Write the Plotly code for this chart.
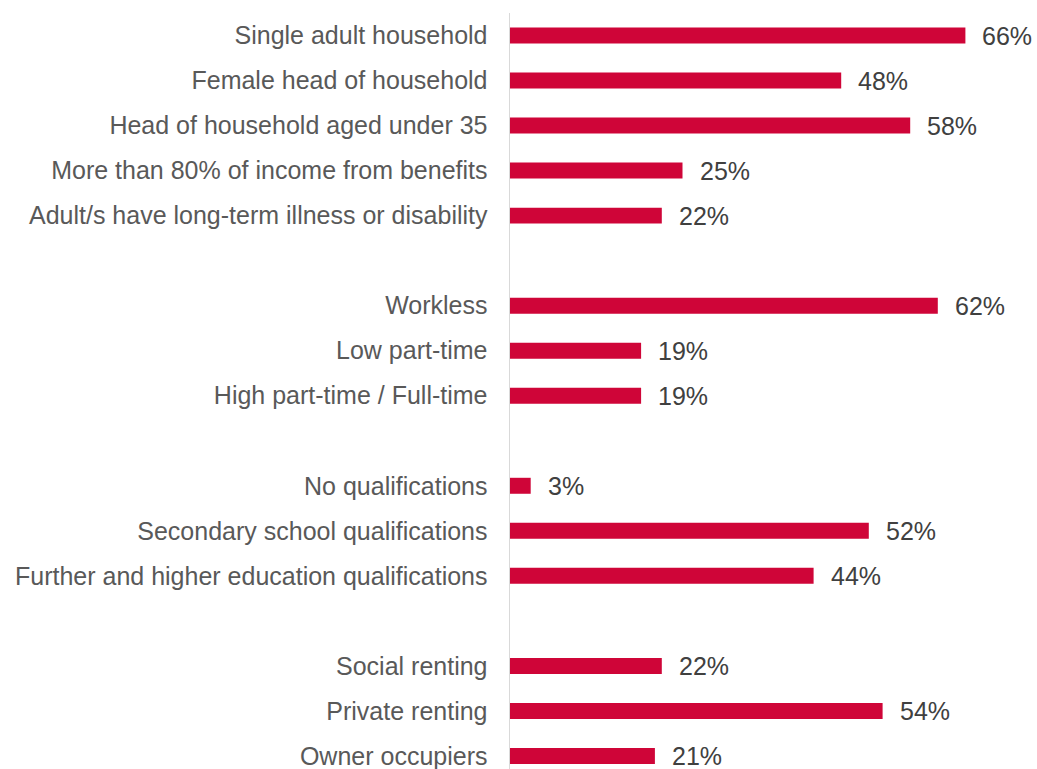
import plotly.graph_objects as go

categories = [
    "Single adult household",
    "Female head of household",
    "Head of household aged under 35",
    "More than 80% of income from benefits",
    "Adult/s have long-term illness or disability",
    " ",
    "Workless",
    "Low part-time",
    "High part-time / Full-time",
    "  ",
    "No qualifications",
    "Secondary school qualifications",
    "Further and higher education qualifications",
    "   ",
    "Social renting",
    "Private renting",
    "Owner occupiers",
]
values = [66, 48, 58, 25, 22, None, 62, 19, 19, None, 3, 52, 44, None, 22, 54, 21]

BAR_COLOR = "#CF0538"
FONT = "Arial, 'Liberation Sans', sans-serif"

fig = go.Figure()
fig.add_trace(go.Bar(
    x=values,
    y=categories,
    orientation="h",
    marker=dict(color=BAR_COLOR, line=dict(width=0)),
    hoverinfo="skip",
))

for cat, val in zip(categories, values):
    if val is None:
        continue
    fig.add_annotation(
        x=val, y=cat, text=f"{val}%", showarrow=False,
        xanchor="left", yanchor="middle", xshift=15,
        font=dict(family=FONT, size=25, color="#404040"),
    )

W, H = 1037, 769
L, T = 510, 13
scale = 6.9  # px per percent
fig.update_layout(
    width=W, height=H,
    margin=dict(l=L, r=0, t=T, b=0),
    paper_bgcolor="white", plot_bgcolor="white",
    bargap=0.645,
    showlegend=False,
    font=dict(family=FONT, size=25, color="#595959"),
    xaxis=dict(visible=False, range=[0, (W - L) / scale], fixedrange=True),
    yaxis=dict(
        type="category",
        range=[16.29, -0.5],
        autorange=False,
        showline=True, linecolor="#D9D9D9", linewidth=1.5,
        showgrid=False, zeroline=False,
        ticks="outside", ticklen=16, tickcolor="rgba(0,0,0,0)",
        tickfont=dict(family=FONT, size=25, color="#595959"),
    ),
)

fig.write_html(
    "out.html",
    config={"displayModeBar": False, "staticPlot": True},
    post_script="document.body.style.margin='0';document.body.style.overflow='hidden';",
)
